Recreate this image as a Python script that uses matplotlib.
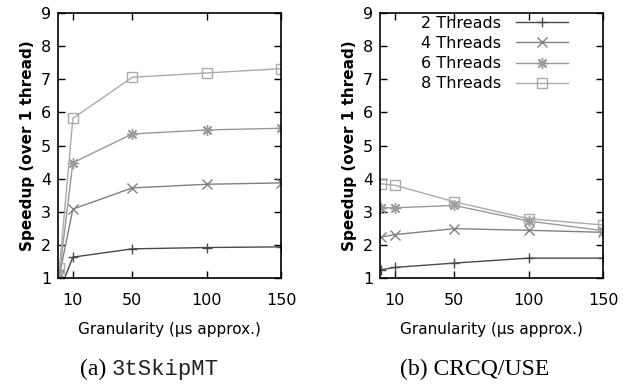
import matplotlib
matplotlib.use("Agg")
import matplotlib.pyplot as plt

# granularity (us approx.)
gran = [1, 10, 50, 100, 150]

# (a) 3tSkipMT speedups
skip_2t = [0.6, 1.63, 1.88, 1.92, 1.94]
skip_4t = [1.1, 3.08, 3.72, 3.83, 3.87]
skip_6t = [1.15, 4.48, 5.35, 5.47, 5.52]
skip_8t = [1.3, 5.82, 7.06, 7.19, 7.32]

# (b) CRCQ/USE speedups
crcq_2t = [1.25, 1.32, 1.45, 1.6, 1.6]
crcq_4t = [2.24, 2.31, 2.49, 2.44, 2.38]
crcq_6t = [3.12, 3.12, 3.19, 2.72, 2.43]
crcq_8t = [3.84, 3.8, 3.3, 2.79, 2.6]

labels = ["2 Threads", "4 Threads", "6 Threads", "8 Threads"]
colors = ["#4a4a4a", "#808080", "#9a9a9a", "#ababab"]
markers = ["+", "x", (8, 2, 0), "s"]
msizes = [7.5, 7, 8, 7]

xticks = [10, 50, 100, 150]
yticks = list(range(1, 10))

fig = plt.figure(figsize=(6.23, 3.85), dpi=100)
ax1 = fig.add_axes([58 / 623, 107 / 385, 223 / 623, 265 / 385])
ax2 = fig.add_axes([380 / 623, 107 / 385, 223 / 623, 265 / 385])


def draw(ax, series):
    for ys, lab, c, m, ms in zip(series, labels, colors, markers, msizes):
        ax.plot(gran, ys, color=c, marker=m, markersize=ms, lw=1.0,
                markerfacecolor="none", markeredgecolor=c,
                markeredgewidth=1.0, label=lab)
    ax.set_xlim(0, 150)
    ax.set_ylim(1, 9)
    ax.set_xticks(xticks)
    ax.set_yticks(yticks)
    ax.tick_params(direction="in", length=5, width=1, top=True, right=True,
                   labelsize=11.5, color="black")
    ax.tick_params(axis="x", pad=11)
    ax.tick_params(axis="y", pad=5)
    for s in ax.spines.values():
        s.set_linewidth(1.2)
    ax.set_ylabel("Speedup (over 1 thread)", fontsize=11, fontweight="bold",
                  labelpad=4)
    ax.set_xlabel("Granularity (\u03bcs approx.)", fontsize=11, labelpad=10)


draw(ax1, [skip_2t, skip_4t, skip_6t, skip_8t])
draw(ax2, [crcq_2t, crcq_4t, crcq_6t, crcq_8t])

ax2.legend(loc="upper right", bbox_to_anchor=(0.845, 0.99), frameon=False,
           markerfirst=False, fontsize=11.5, handlelength=3.3,
           handletextpad=0.9, labelspacing=0.33, borderpad=0,
           borderaxespad=0)

# captions
fig.text(80 / 623, 10 / 385, "(a)", family="Liberation Serif", fontsize=17,
         ha="left", va="baseline")
fig.text(112 / 623, 10 / 385, "3tSkipMT", family="Liberation Mono",
         fontsize=16, ha="left", va="baseline", color="#222222")
fig.text(400 / 623, 10 / 385, "(b) CRCQ/USE", family="Liberation Serif",
         fontsize=17, ha="left", va="baseline")

fig.savefig("out.png", dpi=100)
